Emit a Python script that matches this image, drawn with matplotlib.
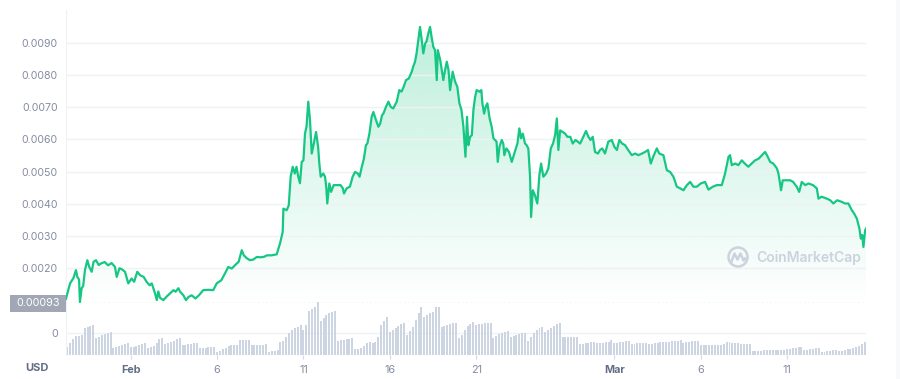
import matplotlib

matplotlib.use("Agg")

import matplotlib.dates as mdates
import matplotlib.pyplot as plt
import numpy as np
import pandas as pd
from matplotlib.lines import Line2D
from matplotlib.patches import Circle, Rectangle

# price trace: days from 2023-02-01 00:00, and USD price
price_days = [
    -3.75, -3.65, -3.51, -3.32, -3.17, -3.09, -2.99, -2.94, -2.84, -2.75,
    -2.65, -2.51, -2.40, -2.26, -2.15, -2.01, -1.85, -1.68, -1.50, -1.31,
    -1.10, -0.91, -0.81, -0.65, -0.52, -0.33, -0.14, 0.05, 0.20, 0.38,
    0.55, 0.75, 0.93, 1.10, 1.22, 1.41, 1.51, 1.60, 1.70, 1.89,
    2.08, 2.28, 2.48, 2.60, 2.76, 2.86, 3.05, 3.20, 3.35, 3.53,
    3.75, 3.95, 4.20, 4.50, 4.78, 4.98, 5.25, 5.46, 5.65, 5.85,
    6.05, 6.25, 6.43, 6.55, 6.72, 6.90, 7.10, 7.30, 7.50, 7.70,
    7.88, 8.15, 8.45, 8.65, 8.80, 8.84, 9.03, 9.15, 9.26, 9.38,
    9.50, 9.60, 9.70, 9.80, 9.90, 10.00, 10.09, 10.18, 10.28, 10.38,
    10.48, 10.60, 10.73, 10.85, 10.92, 11.00, 11.15, 11.25, 11.32, 11.38,
    11.50, 11.60, 11.75, 11.93, 12.15, 12.28, 12.35, 12.50, 12.69, 12.85,
    12.99, 13.15, 13.25, 13.38, 13.50, 13.62, 13.70, 13.82, 13.95, 14.05,
    14.20, 14.34, 14.45, 14.55, 14.63, 14.78, 14.92, 15.05, 15.20, 15.40,
    15.55, 15.68, 15.80, 15.94, 16.10, 16.27, 16.35, 16.46, 16.55, 16.65,
    16.75, 16.85, 16.94, 17.05, 17.12, 17.23, 17.33, 17.42, 17.52, 17.62,
    17.72, 17.78, 17.92, 18.01, 18.10, 18.20, 18.30, 18.40, 18.49, 18.64,
    18.78, 18.91, 19.03, 19.15, 19.26, 19.38, 19.47, 19.55, 19.65, 19.75,
    19.84, 19.94, 20.03, 20.20, 20.30, 20.36, 20.46, 20.55, 20.65, 20.78,
    20.90, 21.00, 21.09, 21.18, 21.25, 21.35, 21.48, 21.57, 21.63, 21.75,
    21.90, 22.06, 22.15, 22.30, 22.39, 22.50, 22.60, 22.70, 22.83, 22.92,
    23.02, 23.12, 23.18, 23.28, 23.40, 23.54, 23.66, 23.76, 23.89, 24.05,
    24.18, 24.32, 24.45, 24.57, 24.67, 24.76, 24.86, 25.00, 25.15, 25.28,
    25.45, 25.59, 25.75, 25.88, 26.02, 26.20, 26.36, 26.50, 26.62, 26.75,
    26.88, 27.05, 27.17, 27.30, 27.46, 27.65, 27.85, 28.00, 28.15, 28.29,
    28.45, 28.62, 28.80, 29.01, 29.20, 29.39, 29.60, 29.78, 29.95, 30.11,
    30.25, 30.46, 30.60, 30.84, 31.04, 31.23, 31.42, 31.62, 31.81, 32.00,
    32.20, 32.39, 32.58, 32.77, 33.00, 33.25, 33.45, 33.70, 33.93, 34.22,
    34.41, 34.61, 34.70, 34.80, 35.00, 35.18, 35.38, 35.55, 35.76, 35.95,
    36.15, 36.35, 36.55, 36.73, 36.88, 37.02, 37.20, 37.41, 37.50, 37.58,
    37.65, 37.75, 37.95, 38.18, 38.35, 38.56, 38.70, 38.85, 39.05, 39.24,
    39.50, 39.72, 39.82, 40.00, 40.30, 40.50, 40.68, 40.90, 41.17, 41.35,
    41.55, 41.75, 41.88, 42.04, 42.19, 42.27, 42.35, 42.42, 42.52, 42.57,
]
price_usd = [
    0.00105, 0.00125, 0.00153, 0.00169, 0.00194, 0.00173, 0.00165, 0.00095, 0.00138, 0.00145,
    0.00194, 0.00225, 0.00204, 0.00189, 0.00220, 0.00225, 0.00210, 0.00216, 0.00219, 0.00209,
    0.00216, 0.00204, 0.00173, 0.00200, 0.00197, 0.00189, 0.00153, 0.00168, 0.00158, 0.00189,
    0.00178, 0.00173, 0.00157, 0.00147, 0.00153, 0.00122, 0.00101, 0.00128, 0.00108, 0.00101,
    0.00112, 0.00122, 0.00132, 0.00127, 0.00138, 0.00127, 0.00116, 0.00101, 0.00111, 0.00116,
    0.00106, 0.00116, 0.00132, 0.00133, 0.00132, 0.00153, 0.00163, 0.00184, 0.00204, 0.00199,
    0.00210, 0.00220, 0.00256, 0.00240, 0.00231, 0.00225, 0.00227, 0.00235, 0.00234, 0.00235,
    0.00240, 0.00240, 0.00243, 0.00278, 0.00313, 0.00385, 0.00380, 0.00395, 0.00484, 0.00515,
    0.00494, 0.00515, 0.00484, 0.00464, 0.00530, 0.00535, 0.00618, 0.00640, 0.00717, 0.00660,
    0.00556, 0.00587, 0.00623, 0.00577, 0.00525, 0.00484, 0.00494, 0.00484, 0.00453, 0.00401,
    0.00463, 0.00437, 0.00458, 0.00458, 0.00458, 0.00448, 0.00432, 0.00448, 0.00453, 0.00484,
    0.00499, 0.00494, 0.00484, 0.00515, 0.00540, 0.00582, 0.00587, 0.00618, 0.00670, 0.00685,
    0.00660, 0.00639, 0.00650, 0.00675, 0.00680, 0.00701, 0.00717, 0.00701, 0.00696, 0.00717,
    0.00753, 0.00748, 0.00763, 0.00784, 0.00789, 0.00810, 0.00825, 0.00841, 0.00867, 0.00908,
    0.00949, 0.00908, 0.00867, 0.00898, 0.00903, 0.00929, 0.00949, 0.00918, 0.00887, 0.00877,
    0.00784, 0.00877, 0.00846, 0.00815, 0.00784, 0.00815, 0.00841, 0.00815, 0.00753, 0.00810,
    0.00779, 0.00763, 0.00712, 0.00691, 0.00640, 0.00546, 0.00670, 0.00582, 0.00608, 0.00613,
    0.00691, 0.00732, 0.00753, 0.00748, 0.00753, 0.00712, 0.00680, 0.00701, 0.00712, 0.00665,
    0.00639, 0.00603, 0.00598, 0.00593, 0.00530, 0.00577, 0.00598, 0.00587, 0.00551, 0.00572,
    0.00561, 0.00530, 0.00546, 0.00572, 0.00587, 0.00634, 0.00603, 0.00618, 0.00587, 0.00582,
    0.00572, 0.00484, 0.00359, 0.00442, 0.00427, 0.00401, 0.00489, 0.00525, 0.00484, 0.00494,
    0.00510, 0.00572, 0.00587, 0.00613, 0.00665, 0.00567, 0.00628, 0.00623, 0.00618, 0.00608,
    0.00608, 0.00587, 0.00598, 0.00593, 0.00587, 0.00608, 0.00626, 0.00608, 0.00598, 0.00608,
    0.00561, 0.00556, 0.00567, 0.00572, 0.00556, 0.00593, 0.00598, 0.00577, 0.00567, 0.00598,
    0.00587, 0.00582, 0.00567, 0.00551, 0.00556, 0.00551, 0.00556, 0.00561, 0.00567, 0.00525,
    0.00546, 0.00572, 0.00556, 0.00551, 0.00504, 0.00499, 0.00484, 0.00453, 0.00448, 0.00442,
    0.00458, 0.00468, 0.00453, 0.00453, 0.00463, 0.00468, 0.00444, 0.00453, 0.00458, 0.00458,
    0.00494, 0.00546, 0.00551, 0.00520, 0.00525, 0.00520, 0.00535, 0.00525, 0.00515, 0.00525,
    0.00535, 0.00540, 0.00551, 0.00561, 0.00546, 0.00530, 0.00525, 0.00510, 0.00494, 0.00468,
    0.00442, 0.00473, 0.00473, 0.00473, 0.00468, 0.00453, 0.00437, 0.00468, 0.00458, 0.00463,
    0.00458, 0.00448, 0.00416, 0.00422, 0.00416, 0.00411, 0.00401, 0.00411, 0.00406, 0.00401,
    0.00401, 0.00380, 0.00370, 0.00354, 0.00323, 0.00292, 0.00303, 0.00266, 0.00318, 0.00323,
]

# 4-hourly volume bars (relative units), first bar 2023-01-28 08:00
volume = [
    8, 12, 16, 19,
    19, 20, 27, 28, 29, 30,
    17, 18, 20, 21, 22, 23,
    7, 8, 9, 10, 11, 12,
    8, 8, 9, 10, 11, 12,
    7, 8, 9, 12, 16, 17,
    11, 12, 13, 14, 16, 17,
    10, 10, 11, 11, 12, 12,
    7, 7, 7, 8, 8, 8,
    3, 4, 6, 7, 9, 10,
    10, 10, 15, 15, 15, 15,
    10, 10, 10, 10, 10, 11,
    3, 4, 4, 5, 13, 14,
    18, 22, 25, 27, 28, 30,
    25, 30, 44, 46, 48, 53,
    34, 37, 40, 42, 43, 44,
    14, 15, 15, 16, 16, 17,
    6, 6, 7, 9, 12, 13,
    12, 13, 18, 30, 34, 38,
    23, 25, 27, 29, 31, 32,
    20, 24, 28, 35, 42, 48,
    38, 40, 42, 43, 48, 48,
    28, 29, 30, 31, 32, 32,
    17, 20, 25, 29, 31, 33,
    30, 31, 31, 32, 32, 32,
    17, 19, 21, 22, 23, 24,
    18, 19, 20, 21, 22, 22,
    14, 18, 22, 25, 27, 28,
    23, 25, 27, 29, 31, 32,
    18, 18, 18, 18, 18, 18,
    11, 11, 12, 12, 13, 13,
    12, 12, 12, 13, 13, 15,
    12, 12, 13, 13, 14, 14,
    11, 11, 12, 12, 12, 12,
    11, 11, 12, 12, 13, 13,
    13, 13, 14, 14, 14, 15,
    12, 13, 13, 14, 14, 14,
    10, 10, 10, 10, 10, 10,
    10, 10, 11, 13, 13, 12,
    12, 12, 11, 11, 11, 11,
    4, 4, 4, 4, 5, 5,
    5, 5, 5, 5, 5, 5,
    6, 6, 7, 7, 8, 8,
    5, 5, 6, 6, 7, 7,
    3, 3, 4, 4, 5, 5,
    4, 4, 5, 6, 6, 7,
    8, 9, 11, 13,
]

price_ticks = [0.0020, 0.0030, 0.0040, 0.0050, 0.0060, 0.0070, 0.0080, 0.0090]
price_floor = 0.00093
tick_dates = ["2023-02-01", "2023-02-06", "2023-02-11", "2023-02-16",
              "2023-02-21", "2023-03-01", "2023-03-06", "2023-03-11"]
tick_labels = ["Feb", "6", "11", "16", "21", "Mar", "6", "11"]

GREEN = "#16c784"
GREY = "#858ca2"
DARK = "#616e85"
GRID = "#eff2f5"
W, H = 900, 379

plt.rcParams["font.family"] = ["Inter", "DejaVu Sans"]


def box(x0, y0, x1, y1):
    return [x0 / W, 1 - y1 / H, (x1 - x0) / W, (y1 - y0) / H]


t = pd.Timestamp("2023-02-01") + pd.to_timedelta(price_days, unit="D")
tn = mdates.date2num(t.to_pydatetime())
vt = pd.date_range("2023-01-28 08:00", periods=len(volume), freq="4h")
x0 = mdates.date2num(pd.Timestamp("2023-01-28 06:06").to_pydatetime())
x1 = mdates.date2num(pd.Timestamp("2023-03-15 13:40").to_pydatetime())
top = 0.010016

fig = plt.figure(figsize=(9, 3.79), dpi=100)
axv = fig.add_axes(box(66, 300, 866, 355))
ax = fig.add_axes(box(66, 10, 866, 302.7))
ax.patch.set_visible(False)
axv.patch.set_visible(False)

# volume
axv.bar(mdates.date2num(vt.to_pydatetime()), volume, width=0.115, color="#cdd4e2", zorder=2)
axv.set_xlim(x0, x1)
axv.set_ylim(0, 55)
axv.set_yticks([22])
axv.set_yticklabels(["0"])
axv.grid(axis="y", color=GRID, lw=1, zorder=0)
ticks = mdates.date2num(pd.to_datetime(tick_dates).to_pydatetime())
axv.set_xticks(ticks)
axv.set_xticklabels(tick_labels)
axv.tick_params(axis="x", length=3, color="#d5d9e1", pad=4, labelsize=7.8, labelcolor=GREY)
axv.tick_params(axis="y", length=0, pad=6, labelsize=7.8, labelcolor=GREY)
for lab in axv.get_xticklabels():
    if lab.get_text() in ("Feb", "Mar"):
        lab.set_fontweight("bold")
        lab.set_color(DARK)
for s in ("top", "right", "bottom"):
    axv.spines[s].set_visible(False)
axv.spines["left"].set_color(GRID)

# price
poly = ax.fill_between(tn, price_usd, price_floor, color="none", lw=0)
grad = np.zeros((200, 1, 4))
grad[:, 0, 0] = 22 / 255
grad[:, 0, 1] = 199 / 255
grad[:, 0, 2] = 132 / 255
grad[:, 0, 3] = np.linspace(0.0, 0.30, 200)
im = ax.imshow(grad, extent=[x0, x1, price_floor, top], origin="lower", aspect="auto", zorder=1)
im.set_clip_path(poly.get_paths()[0], transform=ax.transData)
ax.plot(tn, price_usd, color=GREEN, lw=1.6, zorder=3, solid_joinstyle="round")
ax.axhline(price_floor, color="#c6ccd6", lw=1, ls=(0, (1, 2)), zorder=2)
ax.set_xlim(x0, x1)
ax.set_ylim(price_floor, top)
ax.set_yticks(price_ticks)
ax.set_yticklabels([f"{v:.4f}" for v in price_ticks])
ax.set_xticks([])
ax.grid(axis="y", color=GRID, lw=1, zorder=0)
ax.tick_params(axis="y", length=0, pad=6, labelsize=7.6, labelcolor=GREY)
for s in ("top", "right", "bottom"):
    ax.spines[s].set_visible(False)
ax.spines["left"].set_color(GRID)

# current-low label box
fig.add_artist(Rectangle((10 / W, 1 - 311.5 / H), 56 / W, 16.5 / H,
                         transform=fig.transFigure, color="#a1a7b4", lw=0))
fig.text(38 / W, 1 - 303.3 / H, "0.00093", color="white", fontsize=7.8, ha="center", va="center")
fig.text(37 / W, 1 - 368 / H, "USD", color=DARK, fontsize=8, fontweight="bold", ha="center", va="center")

# watermark (drawn in pixel units so the ring stays round)
wm = "#ccd2de"
fig.add_artist(Circle((738, H - 257), 9.5, transform=None, fill=False, ec=wm, lw=1.8))
wx = np.array([731.5, 734.5, 737.5, 740.5, 743.5, 745])
wy = np.array([261.5, 253.5, 259.5, 253.5, 260.5, 258.5])
fig.add_artist(Line2D(wx / W, 1 - wy / H, transform=fig.transFigure, color=wm, lw=1.8))
fig.text(756 / W, 1 - 258 / H, "CoinMarketCap", color=wm, fontsize=10,
         fontweight="semibold", ha="left", va="center")

fig.add_artist(Rectangle((896 / W, 0), 4 / W, 1, transform=fig.transFigure, color="#f8f9fb", lw=0))

fig.savefig("out.png", dpi=100)
